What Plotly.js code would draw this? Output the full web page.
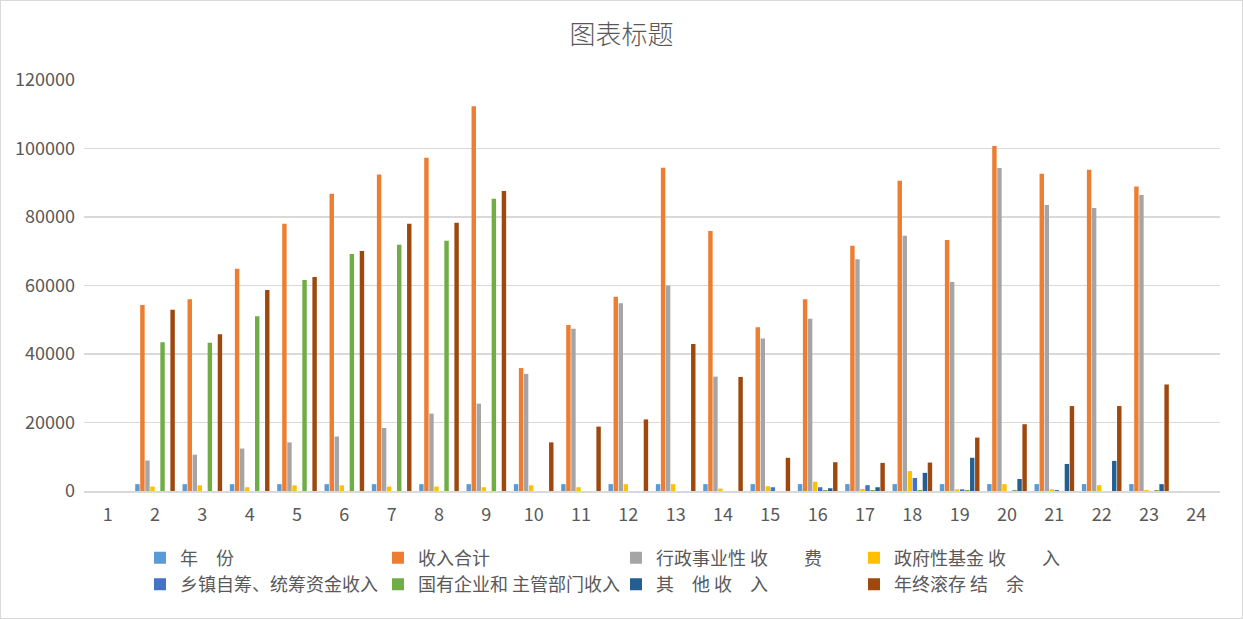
<!DOCTYPE html>
<html>
<head>
<meta charset="utf-8">
<script src="https://cdn.plot.ly/plotly-3.0.1.min.js"></script>
<style>
html,body{margin:0;padding:0;background:#fff;}
#chart{width:1241px;height:617px;border:1px solid #d9d9d9;}
</style>
</head>
<body>
<div id="chart"></div>
<script>
const categories = ["1","2","3","4","5","6","7","8","9","10","11","12","13","14","15","16","17","18","19","20","21","22","23","24"];
const seriesNames = ["年　份","收入合计","行政事业性 收　　费","政府性基金 收　　入","乡镇自筹、统筹资金收入","国有企业和 主管部门收入","其　他 收　入","年终滚存 结　余"];
const yearVals = [null,1998,1999,2000,2001,2002,2003,2004,2005,2006,2007,2008,2009,2010,2011,2012,2013,2014,2015,2016,2017,2018,2019,null];
const totalIncome = [null,54300,56000,64900,78000,86800,92400,97300,112300,35900,48500,56700,94400,75900,47800,56000,71600,90600,73300,100700,92600,93800,88900,null];
const adminFees = [null,8900,10600,12400,14200,15900,18400,22600,25500,34200,47400,54800,60000,33400,44500,50300,67700,74500,61000,94300,83500,82600,86400,null];
const govFund = [null,1300,1650,1100,1650,1650,1300,1300,1100,1650,1100,2000,2000,700,1400,2700,600,5800,500,2000,500,1700,300,null];
const townFunds = [null,0,0,0,0,0,0,0,0,0,0,0,0,0,1100,1100,1700,3800,500,0,300,0,0,null];
const stateEnterprise = [null,43400,43300,51000,61600,69200,71900,73100,85300,0,0,0,0,0,0,300,300,300,300,300,0,0,300,null];
const otherIncome = [null,0,0,0,0,0,0,0,0,0,0,0,0,0,0,800,1100,5300,9700,3500,7900,8800,2000,null];
const yearEndBalance = [null,52900,45800,58700,62500,70100,78000,78300,87600,14200,18800,20900,42900,33300,9700,8400,8200,8300,15600,19500,24800,24800,31100,null];
const yTicks = [0,20000,40000,60000,80000,100000,120000];

const colors = ["#5B9BD5","#ED7D31","#A5A5A5","#FFC000","#4472C4","#70AD47","#255E91","#9E480E"];
const allSeries = [yearVals,totalIncome,adminFees,govFund,townFunds,stateEnterprise,otherIncome,yearEndBalance];

const font = "'Noto Sans CJK SC', 'Noto Sans', sans-serif";
const traces = allSeries.map((vals,i)=>({
  type:'bar', name:seriesNames[i], x:categories, y:vals,
  marker:{color:colors[i]}, hoverinfo:'x+y+name'
}));

const layout = {
  width:1241, height:617,
  margin:{l:83,r:22,t:79,b:127},
  paper_bgcolor:'#fff', plot_bgcolor:'#fff',
  font:{family:font,color:'#595959',size:18},
  title:{text:'图表标题', font:{size:26,color:'#595959',family:font,weight:300}, x:0.5, xanchor:'center', y:0.945, yanchor:'middle', yref:'container'},
  barmode:'group', bargap:0.15, bargroupgap:0.12,
  xaxis:{type:'category', categoryorder:'array', categoryarray:categories, showgrid:false, showline:true, linecolor:'#d9d9d9', linewidth:1.5, ticks:'', tickfont:{size:18,color:'#595959'}, ticklabelstandoff:7},
  yaxis:{range:[0,120000], tickvals:yTicks, ticktext:yTicks.map(String), showgrid:true, gridcolor:'#d9d9d9', gridwidth:1.5, zeroline:false, showline:false, ticks:'', tickfont:{size:18,color:'#595959'}, ticklabelstandoff:8},
  showlegend:true,
  legend:{orientation:'h', xref:'container', yref:'container', x:0.112, xanchor:'left', y:0.127, yanchor:'top', entrywidth:193, entrywidthmode:'pixels', font:{size:18,color:'#595959',family:font}, traceorder:'normal', itemwidth:30}
};
Plotly.newPlot('chart', traces, layout, {displayModeBar:false, staticPlot:true});
</script>
</body>
</html>
